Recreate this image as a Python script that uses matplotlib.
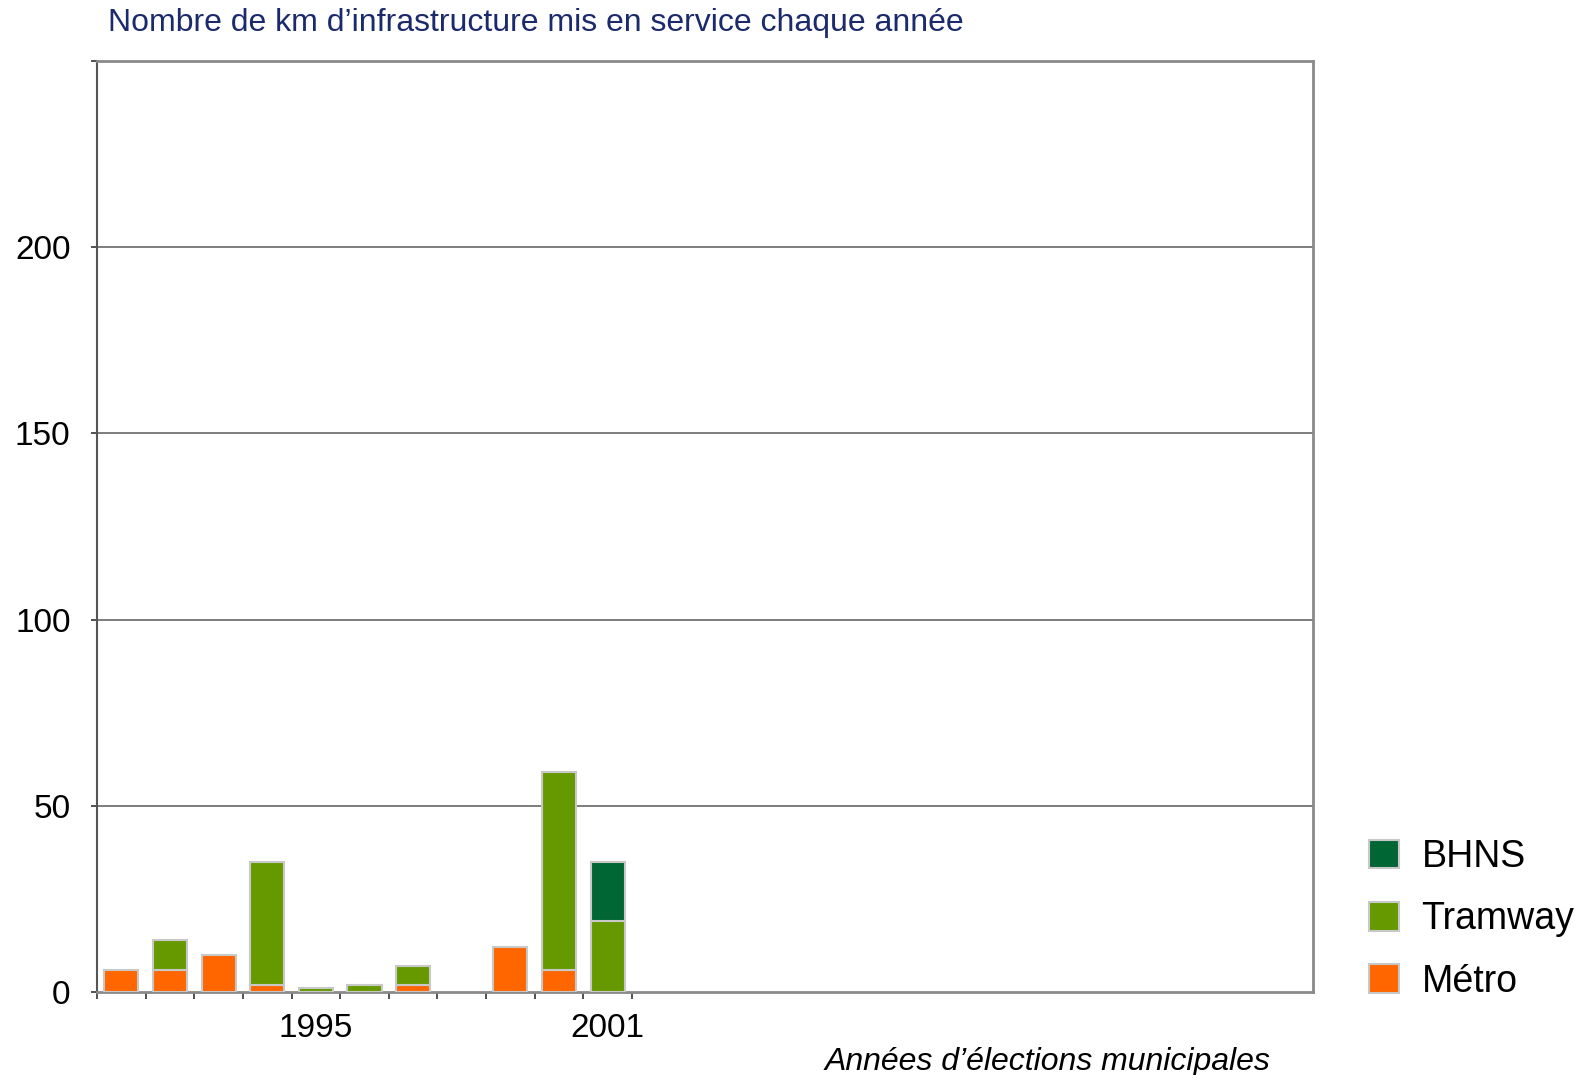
import matplotlib
matplotlib.use("Agg")
import matplotlib.pyplot as plt
from matplotlib.patches import Patch
import numpy as np

plt.rcParams['font.family'] = ['Liberation Sans', 'DejaVu Sans']

years = [1991, 1992, 1993, 1994, 1995, 1996, 1997, 1998, 1999, 2000, 2001]
metro = [6, 6, 10, 2, 0, 0, 2, 0, 12, 6, 0]
tramway = [0, 8, 0, 33, 1, 2, 5, 0, 0, 53, 19]
bhns = [0, 0, 0, 0, 0, 0, 0, 0, 0, 0, 16]
labelled_years = [1995, 2001]
n_slots = 25

c_metro = "#ff6600"
c_tram = "#669900"
c_bhns = "#006633"
edge = "#c8c8c8"

W, H = 1589, 1075
fig = plt.figure(figsize=(W / 100, H / 100), dpi=100)
left, right, bottom, top = 97, 1313, 992, 61
ax = fig.add_axes([left / W, 1 - bottom / H, (right - left) / W, (bottom - top) / H])

x = np.arange(len(years))
m = np.array(metro, float)
t = np.array(tramway, float)
b = np.array(bhns, float)

def draw(vals, bottom_vals, color):
    for xi, v, bt in zip(x, vals, bottom_vals):
        if v > 0:
            ax.bar(xi, v, bottom=bt, width=0.7, color=color, edgecolor=edge,
                   linewidth=1.5, zorder=3)

draw(m, np.zeros_like(m), c_metro)
draw(t, m, c_tram)
draw(b, m + t, c_bhns)

ax.set_xlim(-0.5, n_slots - 0.5)
ax.set_ylim(0, 250)

ax.set_yticks([0, 50, 100, 150, 200, 250])
ax.set_yticklabels(["0", "50", "100", "150", "200", ""])
for yv in [50, 100, 150, 200]:
    ax.axhline(yv, color="#666666", linewidth=1.2, zorder=1)

ax.set_xticks(np.arange(len(years) + 1) - 0.5)
ax.set_xticklabels([])
ax.set_xticks([years.index(y) for y in labelled_years], minor=True)
ax.set_xticklabels([str(y) for y in labelled_years], minor=True)
ax.tick_params(axis="x", which="minor", length=0, pad=15, labelsize=24)
ax.tick_params(axis="x", which="major", length=5, width=1.2, color="#333333", direction="out")
ax.tick_params(axis="y", length=4, width=1.2, color="#333333", direction="out", pad=15, labelsize=24)

ax.spines["left"].set_color("#555555")
ax.spines["left"].set_linewidth(1.5)
for s in ["top", "right", "bottom"]:
    ax.spines[s].set_color("#8a8a8a")
    ax.spines[s].set_linewidth(2)

fig.text(108 / W, 1 - 23 / H, "Nombre de km d\u2019infrastructure mis en service chaque ann\u00e9e",
         color="#1a2a6c", fontsize=23, ha="left", va="center")

fig.text(1270 / W, 1 - 1062 / H, "Ann\u00e9es d\u2019\u00e9lections municipales",
         fontsize=23, style="italic", ha="right", va="center")

handles = [Patch(facecolor=c_bhns, edgecolor=edge, linewidth=1.5, label="BHNS"),
           Patch(facecolor=c_tram, edgecolor=edge, linewidth=1.5, label="Tramway"),
           Patch(facecolor=c_metro, edgecolor=edge, linewidth=1.5, label="M\u00e9tro")]
fig.legend(handles=handles, loc="upper left", bbox_to_anchor=(1369 / W, 1 - 839 / H),
           frameon=False, fontsize=27, handlelength=0.8, handleheight=0.8,
           handletextpad=0.6, labelspacing=0.7, borderpad=0, borderaxespad=0)

fig.savefig("out.png", dpi=100)
